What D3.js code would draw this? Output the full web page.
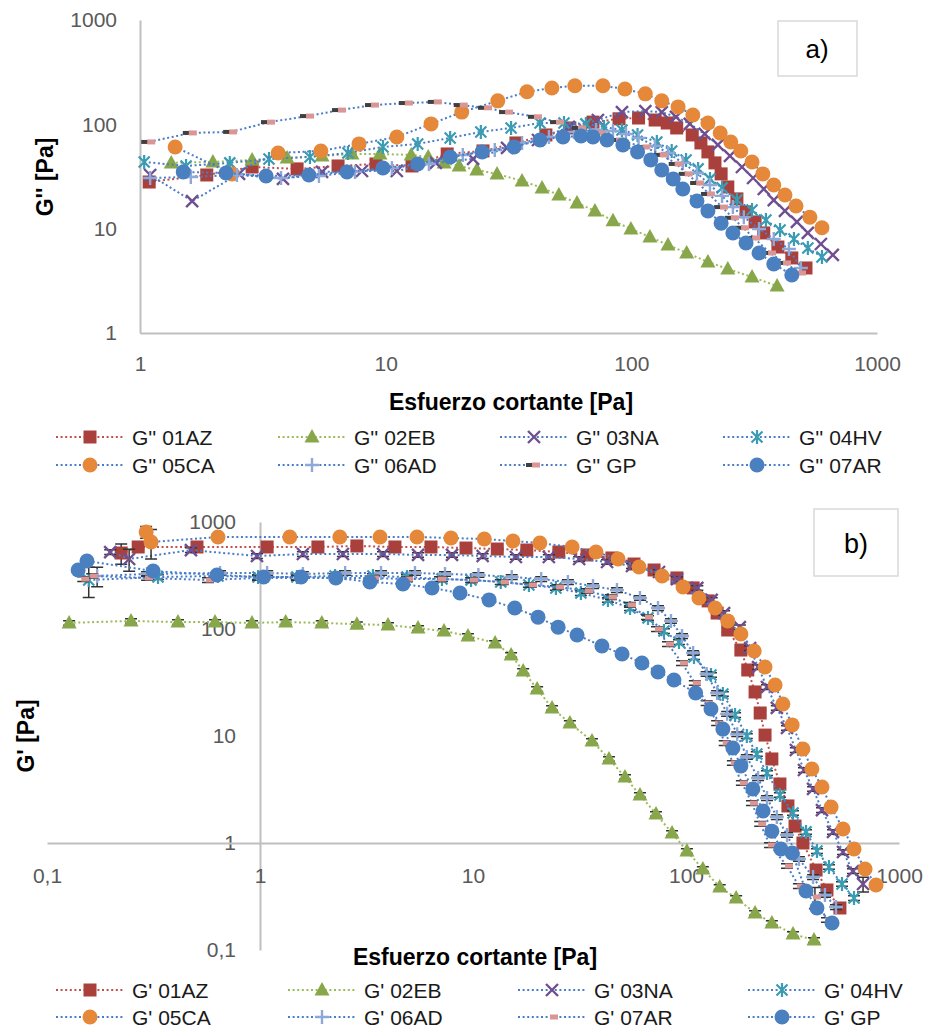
<!DOCTYPE html>
<html>
<head>
<meta charset="utf-8">
<title>G'' y G' vs esfuerzo cortante</title>
<script src="https://d3js.org/d3.v7.min.js"></script>
<style>
  body { margin: 0; background: #fff; }
  svg text { font-family: "Liberation Sans", Arial, sans-serif; }
</style>
</head>
<body>
<svg id="chart" width="931" height="1032"></svg>
<script>
// ---------- panel a) G'' [Pa] vs esfuerzo cortante [Pa] ----------
const a01AZ_x = [1.09,1.87,2.86,4.36,6.40,9.13,12.8,17.8,24.9,33.9,44.9,56.2,69.8,89.1,107,125,140,153,177,192,205,219,232,247,269,293,319,346,395,450,514];
const a01AZ_y = [28.0,32.7,39.0,37.4,39.9,41.7,39.9,52.0,55.6,66.3,79.1,92.3,105,113,115,110,103,92.3,79.1,66.3,54.4,42.7,33.5,25.1,19.3,14.5,11.6,9.1,6.67,5.24,4.2];
const a02EB_x = [1.34,1.98,2.86,3.97,5.51,7.29,9.48,12.7,14.9,17.3,19.9,23.5,28.4,35.9,43.3,50.7,60.1,71.1,84.2,99.6,119,141,168,205,247,310,392];
const a02EB_y = [42.7,43.6,45.6,47.6,49.8,52.0,52.0,50.9,48.7,42.7,39.9,36.5,33.5,28.7,24.6,21.0,17.6,14.8,11.9,9.94,8.33,6.98,5.85,4.80,4.11,3.44,2.82];
const a03NA_x = [1.10,1.63,2.53,3.82,5.51,8.01,11.1,16.0,22.7,31.2,41.7,55.7,73.1,91.6,114,133,152,173,199,225,252,282,313,346,380,422,472,523,591,661];
const a03NA_y = [32.7,18.4,33.5,30.0,35.0,35.7,35.7,42.7,46.6,59.4,70.8,94.4,110,131,134,131,118,101,80.9,63.5,49.8,39.0,30.6,24.0,18.8,14.8,11.6,9.1,7.13,5.6];
const a04HV_x = [1.04,1.54,2.32,3.35,4.92,7.02,9.75,13.5,18.3,24.4,32.4,42.5,53.2,65.3,77.4,91.6,106,127,146,167,187,209,234,269,310,353,403,459,523,597];
const a04HV_y = [43.6,39.9,42.7,46.6,48.7,53.2,60.7,64.9,74.1,84.6,92.3,103,103,101,94.4,88.4,79.1,67.8,55.6,45.6,37.4,30.0,24.6,18.8,15.1,12.1,9.7,7.97,6.53,5.36];
const a05CA_x = [1.39,2.37,3.65,5.45,7.79,11.1,15.3,20.4,28.6,37.6,47.5,58.9,76.6,94.2,114,133,155,178,205,230,254,279,310,343,380,422,468,533,597];
const a05CA_y = [60.7,33.5,53.2,55.6,64.9,75.7,101,131,168,205,223,234,234,218,196,168,147,123,103,82.7,67.8,55.6,43.6,33.5,26.2,21.0,16.5,12.9,10.2];
const a06AD_x = [1.10,1.61,2.48,3.75,5.35,7.50,10.6,15.0,20.6,27.8,35.9,46.2,58.4,71.8,84.2,95.1,107,125,141,162,185,209,234,259,287,331,380,438,490];
const a06AD_y = [30.6,31.3,32.7,30.6,32.0,35.0,38.2,41.7,50.9,56.8,66.3,75.7,84.6,88.4,86.4,80.9,74.1,62.1,53.2,42.7,34.2,26.2,20.6,16.1,12.9,9.94,7.97,6.39,4.2];
const aGP_x = [1.09,1.61,2.35,3.35,4.83,6.52,8.88,12.2,16.0,20.4,25.6,31.2,40.9,50.3,61.8,74.5,88.2,113,133,153,168,187,207,234,259,285,316,367,422,486];
const aGP_y = [67.8,82.7,84.6,105,120,137,153,160,164,153,144,131,118,105,92.3,82.7,70.8,60.7,50.9,41.7,33.5,27.4,21.5,16.1,12.7,10.2,8.14,5.85,4.69,3.76];
const a07AR_x = [1.50,2.24,3.26,4.87,6.96,9.75,13.5,18.3,24.7,33.3,42.5,52.7,62.4,69.8,79.6,92.4,106,120,133,148,162,185,205,232,259,293,331,380,450];
const a07AR_y = [35.0,34.2,32.0,32.7,35.0,38.2,41.7,48.7,54.4,60.7,70.8,75.7,77.4,75.7,70.8,63.5,54.4,45.6,36.5,30.0,24.0,18.4,14.8,11.3,9.1,7.29,5.85,4.59,3.60];

// ---------- panel b) G' [Pa] vs esfuerzo cortante [Pa] ----------
const b01AZ_x = [0.223,0.268,0.506,1.08,1.87,2.85,4.30,6.35,9.27,13.0,17.9,25.3,34.3,44.9,57.0,70.8,90.7,108,127,140,157,181,195,211,223,235,253,276,301,325,354,408,459,528];
const b01AZ_y = [513,584,584,584,584,597,584,584,571,559,547,524,492,461,405,356,300,242,183,141,97.9,63.6,41.4,25.8,16.4,10.2,6.10,3.56,2.22,1.44,1.0,0.559,0.364,0.247];
const b02EB_x = [0.127,0.248,0.412,0.615,0.917,1.32,1.95,2.85,3.99,5.52,7.31,9.47,12.7,15.1,17.2,20.0,23.5,28.5,36.2,43.5,51.7,60.8,72.3,86.0,101,120,144,172,211,253,318,399];
const b02EB_y = [114,119,116,116,114,116,114,111,109,102,95.8,86.0,74.0,57.2,40.5,27.5,18.3,13.2,8.98,6.10,4.14,2.81,1.87,1.24,0.842,0.571,0.388,0.306,0.222,0.179,0.141,0.124];
const b03NA_x = [0.198,0.243,0.474,0.968,1.59,2.45,3.78,5.52,7.97,11.1,15.9,22.7,31.5,42.6,55.8,74.7,90.7,113,132,151,179,200,218,240,267,298,328,358,395,435,490,546,608,678];
const b03NA_y = [524,451,547,481,502,502,502,492,492,481,471,471,451,423,388,341,293,242,187,141,104,66.4,44.1,28.7,18.3,11.9,7.40,4.81,3.20,2.03,1.27,0.824,0.547,0.414];
const b04HV_x = [0.157,0.332,0.635,0.979,1.49,2.25,3.39,4.90,7.15,9.79,13.5,18.3,24.5,32.1,43.0,54.6,66.3,78.8,92.7,109,131,149,170,193,215,240,276,318,366,412,469,540,615];
const b04HV_y = [287,306,313,306,306,313,313,306,293,287,275,258,242,217,187,157,127,95.8,75.6,54.7,37.2,24.7,15.7,10.0,6.79,4.51,2.81,1.91,1.27,0.842,0.597,0.414,0.306];
const b05CA_x = [0.292,0.308,0.635,1.38,2.37,3.66,5.46,7.88,11.3,15.4,20.6,29.2,37.8,48.0,60.2,77.2,96.8,115,137,157,181,209,235,262,285,315,354,390,435,480,546,615,693,780];
const b05CA_y = [806,650,724,724,724,724,724,709,693,664,636,584,524,451,380,313,247,195,157,119,89.8,62.3,44.1,30.0,19.9,12.7,7.56,4.92,3.34,2.17,1.35,0.879,0.571,0.405];
const b06AD_x = [0.172,0.295,0.649,1.08,1.59,2.51,3.70,5.34,7.39,10.6,15.2,20.9,27.9,36.6,47.4,60.8,73.9,85.0,95.8,108,125,140,156,174,193,218,240,267,298,339,395,449,506];
const b06AD_y = [313,327,334,334,327,334,334,334,327,320,306,293,275,252,231,195,157,119,86.0,59.7,38.0,25.2,16.1,10.4,6.37,4.05,2.63,1.75,1.19,0.709,0.481,0.327,0.252];
const b07AR_x = [0.148,0.163,0.295,0.570,0.979,1.49,2.25,3.39,4.90,7.00,9.89,13.8,18.7,25.1,34.3,44.4,54.6,65.6,73.1,82.3,95.8,110,125,140,152,166,183,204,223,248,298,339,403,459];
const b07AR_y = [293,313,300,287,300,300,300,300,293,293,287,275,258,247,227,199,168,129,100,72.4,48.1,31.3,20.3,13.2,8.60,5.60,3.64,2.36,1.51,0.958,0.610,0.396,0.313,0.191];
const bGP_x = [0.140,0.154,0.315,0.628,1.04,1.56,2.27,3.28,4.69,6.42,8.69,11.9,15.7,20.2,25.1,30.8,40.3,50.1,62.1,73.9,87.8,111,131,149,166,181,206,230,253,279,315,366,412,485];
const bGP_y = [356,432,348,320,306,306,300,275,263,242,217,187,157,129,104,87.9,69.3,58.4,48.1,39.6,33.4,25.2,17.9,11.6,7.72,5.24,3.20,1.99,1.29,0.879,0.806,0.356,0.247,0.179];

// error bars in b): most points carry a small spread (relative), a few were larger: [index, +/- Pa]
const errRel = 0.05;
const err01AZ = [[0, 110]];
const err03NA = [[1, 105], [33, 0.065]];
const err04HV = [[0, 90]];
const err05CA = [[0, 100], [1, 200]];
const err06AD = [[0, 65]];
const err07AR = [[32, 0.07]];
const errGP = [];
const err02EB = [];

const ticksA = [1, 10, 100, 1000];
const ticksB = [0.1, 1, 10, 100, 1000];

const blue = "#4a7dc8", red = "#c0504d", green = "#9bbb59";

const seriesA = [
  {label: "G'' 01AZ", xs: a01AZ_x, ys: a01AZ_y, line: red, mk: "square"},
  {label: "G'' 02EB", xs: a02EB_x, ys: a02EB_y, line: green, mk: "triangle"},
  {label: "G'' 03NA", xs: a03NA_x, ys: a03NA_y, line: blue, mk: "x"},
  {label: "G'' 04HV", xs: a04HV_x, ys: a04HV_y, line: blue, mk: "star"},
  {label: "G'' 05CA", xs: a05CA_x, ys: a05CA_y, line: blue, mk: "circleO"},
  {label: "G'' 06AD", xs: a06AD_x, ys: a06AD_y, line: blue, mk: "plus"},
  {label: "G'' GP",   xs: aGP_x,   ys: aGP_y,   line: blue, mk: "dashA"},
  {label: "G'' 07AR", xs: a07AR_x, ys: a07AR_y, line: blue, mk: "circleB"}
];
const seriesB = [
  {label: "G' 01AZ", xs: b01AZ_x, ys: b01AZ_y, line: red, mk: "square", err: err01AZ},
  {label: "G' 02EB", xs: b02EB_x, ys: b02EB_y, line: green, mk: "triangle", err: err02EB},
  {label: "G' 03NA", xs: b03NA_x, ys: b03NA_y, line: blue, mk: "x", err: err03NA},
  {label: "G' 04HV", xs: b04HV_x, ys: b04HV_y, line: blue, mk: "star", err: err04HV},
  {label: "G' 05CA", xs: b05CA_x, ys: b05CA_y, line: blue, mk: "circleO", err: err05CA},
  {label: "G' 06AD", xs: b06AD_x, ys: b06AD_y, line: blue, mk: "plus", err: err06AD},
  {label: "G' 07AR", xs: b07AR_x, ys: b07AR_y, line: blue, mk: "dashB", err: err07AR},
  {label: "G' GP",   xs: bGP_x,   ys: bGP_y,   line: blue, mk: "circleB", err: errGP}
];

const svg = d3.select("#chart");
const tickColor = "#595959", axisColor = "#bfbfbf";

const xA = d3.scaleLog().domain([1, 1000]).range([140, 877]);
const yA = d3.scaleLog().domain([1, 1000]).range([333, 20]);
const xB = d3.scaleLog().domain([0.1, 1000]).range([47, 899]);
const yB = d3.scaleLog().domain([0.1, 1000]).range([950, 522]);

const comma = d3.formatLocale({decimal: ",", thousands: ".", grouping: [3], currency: ["", ""]}).format("~g");

function drawMarker(g, mk, x, y) {
  if (mk === "square") {
    g.append("rect").attr("x", x - 6.5).attr("y", y - 6.5).attr("width", 13).attr("height", 13).attr("fill", "#aa403c");
  } else if (mk === "triangle") {
    g.append("path").attr("d", `M${x},${y - 8}L${x + 7.5},${y + 5.5}L${x - 7.5},${y + 5.5}Z`).attr("fill", "#88a74a");
  } else if (mk === "x") {
    g.append("path").attr("d", `M${x - 6},${y - 6}L${x + 6},${y + 6}M${x - 6},${y + 6}L${x + 6},${y - 6}`)
      .attr("stroke", "#6f4f90").attr("stroke-width", 2.4).attr("fill", "none");
  } else if (mk === "star") {
    g.append("path").attr("d", `M${x - 5.5},${y - 5.5}L${x + 5.5},${y + 5.5}M${x - 5.5},${y + 5.5}L${x + 5.5},${y - 5.5}M${x},${y - 7}L${x},${y + 7}`)
      .attr("stroke", "#3a9cb3").attr("stroke-width", 2.2).attr("fill", "none");
  } else if (mk === "circleO") {
    g.append("circle").attr("cx", x).attr("cy", y).attr("r", 7.5).attr("fill", "#e5883a");
  } else if (mk === "circleB") {
    g.append("circle").attr("cx", x).attr("cy", y).attr("r", 7.5).attr("fill", "#4a7fc0");
  } else if (mk === "plus") {
    g.append("path").attr("d", `M${x - 7},${y}L${x + 7},${y}M${x},${y - 7}L${x},${y + 7}`)
      .attr("stroke", "#8ea8d8").attr("stroke-width", 2.4).attr("fill", "none");
  } else if (mk === "dashA") {
    g.append("rect").attr("x", x - 8).attr("y", y - 2).attr("width", 8).attr("height", 4).attr("fill", "#404040");
    g.append("rect").attr("x", x - 2).attr("y", y - 2.5).attr("width", 8).attr("height", 5).attr("fill", "#d99694");
  } else if (mk === "dashB") {
    g.append("rect").attr("x", x - 2).attr("y", y - 2.5).attr("width", 8).attr("height", 5).attr("fill", "#d99694");
  }
}

function drawSeries(g, s, x, y, withErr) {
  const pts = s.xs.map((v, i) => [v, s.ys[i]]);
  const gs = g.append("g");
  gs.append("path").datum(pts)
    .attr("d", d3.line().x(d => x(d[0])).y(d => y(d[1])))
    .attr("fill", "none").attr("stroke", s.line).attr("stroke-width", 2)
    .attr("stroke-dasharray", "2,2.6");
  if (withErr) {
    const big = new Map(s.err);
    pts.forEach((d, i) => {
      const e = big.has(i) ? big.get(i) : d[1] * errRel;
      const px = x(d[0]), y1 = y(d[1] + e), y2 = y(Math.max(d[1] - e, 1e-3));
      const pth = `M${px},${y1}L${px},${y2}M${px - 6},${y1}L${px + 6},${y1}M${px - 6},${y2}L${px + 6},${y2}`;
      gs.append("path").attr("d", pth).attr("stroke", "#333").attr("stroke-width", 1.5).attr("fill", "none");
    });
  }
  pts.forEach(d => drawMarker(gs, s.mk, x(d[0]), y(d[1])));
}

function styleAxis(ax) {
  ax.select(".domain").attr("stroke", axisColor).attr("stroke-width", 2);
  ax.selectAll(".tick line").remove();
  ax.selectAll(".tick text").attr("fill", tickColor).style("font-size", "21px");
}

function drawLegend(series, cols, rows) {
  series.forEach((s, i) => {
    const cx = cols[i % 4], cy = rows[Math.floor(i / 4)];
    const g = svg.append("g");
    g.append("line").attr("x1", cx - 34).attr("x2", cx + 34).attr("y1", cy).attr("y2", cy)
      .attr("stroke", s.line).attr("stroke-width", 2).attr("stroke-dasharray", "2,2.6");
    drawMarker(g, s.mk, cx, cy);
    g.append("text").attr("x", cx + 42).attr("y", cy + 7.5).attr("fill", "#1a1a1a")
      .style("font-size", "21px").text(s.label);
  });
}

// ---------- panel a ----------
const axA_y = svg.append("g").attr("transform", `translate(${xA(1)},0)`)
  .call(d3.axisLeft(yA).tickValues(ticksA).tickFormat(d3.format("~g")).tickSize(0).tickSizeOuter(0).tickPadding(23));
styleAxis(axA_y);
const axA_x = svg.append("g").attr("transform", `translate(0,${yA(1)})`)
  .call(d3.axisBottom(xA).tickValues(ticksA).tickFormat(d3.format("~g")).tickSize(0).tickSizeOuter(0).tickPadding(23));
styleAxis(axA_x);

const plotA = svg.append("g");
seriesA.forEach(s => drawSeries(plotA, s, xA, yA, false));

svg.append("text").attr("transform", "translate(53,177) rotate(-90)").attr("text-anchor", "middle")
  .style("font-size", "23px").style("font-weight", "bold").text("G'' [Pa]");
svg.append("text").attr("x", 511).attr("y", 410).attr("text-anchor", "middle")
  .style("font-size", "23px").style("font-weight", "bold").text("Esfuerzo cortante [Pa]");

svg.append("rect").attr("x", 778).attr("y", 21).attr("width", 79).attr("height", 55)
  .attr("fill", "#fff").attr("stroke", "#d9d9d9").attr("stroke-width", 1.5);
svg.append("text").attr("x", 817).attr("y", 58).attr("text-anchor", "middle").style("font-size", "26px").text("a)");

drawLegend(seriesA, [90, 312, 534, 757], [437, 465]);

// ---------- panel b ----------
const axB_y = svg.append("g").attr("transform", `translate(${xB(1)},0)`)
  .call(d3.axisLeft(yB).tickValues(ticksB).tickFormat(comma).tickSize(0).tickSizeOuter(0).tickPadding(24));
styleAxis(axB_y);
const axB_x = svg.append("g").attr("transform", `translate(0,${yB(1)})`)
  .call(d3.axisBottom(xB).tickValues(ticksB).tickFormat(comma).tickSize(0).tickSizeOuter(0).tickPadding(25));
styleAxis(axB_x);

const plotB = svg.append("g");
seriesB.forEach(s => drawSeries(plotB, s, xB, yB, true));

svg.append("text").attr("transform", "translate(34,736) rotate(-90)").attr("text-anchor", "middle")
  .style("font-size", "23px").style("font-weight", "bold").text("G' [Pa]");
svg.append("text").attr("x", 475).attr("y", 965).attr("text-anchor", "middle")
  .style("font-size", "23px").style("font-weight", "bold").text("Esfuerzo cortante [Pa]");

svg.append("rect").attr("x", 814).attr("y", 509).attr("width", 84).attr("height", 67)
  .attr("fill", "#fff").attr("stroke", "#d9d9d9").attr("stroke-width", 1.5);
svg.append("text").attr("x", 856).attr("y", 553).attr("text-anchor", "middle").style("font-size", "27px").text("b)");

drawLegend(seriesB, [90, 322, 552, 782], [990, 1017]);
</script>
</body>
</html>
